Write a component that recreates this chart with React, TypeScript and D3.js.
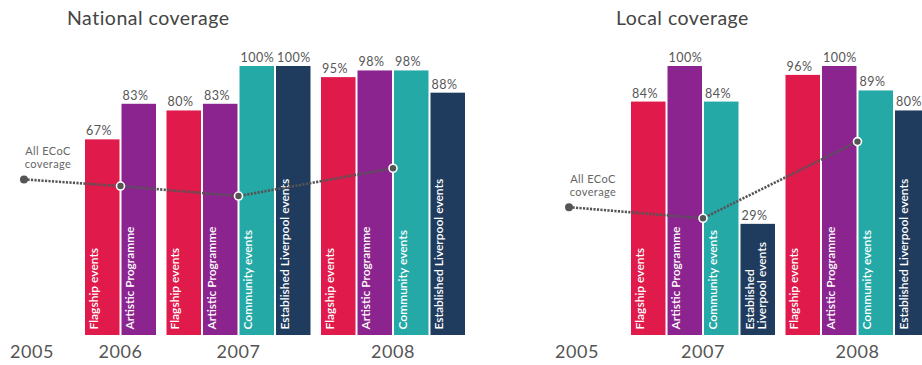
import React from "react";
import * as d3 from "d3";

// ---------- data ----------
const categories = [
  "Flagship events",
  "Artistic Programme",
  "Community events",
  "Established Liverpool events",
];
const categoryColors = ["#E01A4B", "#8C248F", "#25A9A7", "#1F3B5E"];

// National coverage (% of events)
const nationalYears = ["2006", "2007", "2008"];
const nationalFlagship = [67, 80, 95];
const nationalArtistic = [83, 83, 98];
const nationalCommunity: (number | null)[] = [null, 100, 98];
const nationalEstablished: (number | null)[] = [null, 100, 88];
const nationalEcocYears = ["2005", "2006", "2007", "2008"];
const nationalEcoc = [49, 46, 41.5, 54];

// Local coverage (% of events)
const localYears = ["2007", "2008"];
const localFlagship = [84, 96];
const localArtistic = [100, 100];
const localCommunity = [84, 89];
const localEstablished = [29, 80];
const localEcocYears = ["2005", "2007", "2008"];
const localEcoc = [36.5, 31.5, 66];

const ecocLabel = ["All ECoC", "coverage"];

// ---------- layout ----------
const W = 922;
const H = 365;
const BASE_Y = 335;
const TOP_Y = 66;
const STEP = 36.5;
const GAP = 2;
const GROUP_GAP = 10.5;
const FONT = "Lato, 'Open Sans', sans-serif";
const TEXT_GRAY = "#555";

type Group = { year: string; values: (number | null)[] };

function buildGroups(years: string[], series: (number | null)[][]): Group[] {
  return years.map((year, i) => ({
    year,
    values: series.map((s) => s[i]).filter((v) => v !== null && v !== undefined) as number[],
  }));
}

const y = d3.scaleLinear().domain([-21, 100]).range([BASE_Y, TOP_Y]);

type PanelProps = {
  title: string;
  titleX: number;
  anchorX: number;
  firstX: number;
  groups: Group[];
  ecocYears: string[];
  ecoc: number[];
};

function Panel({ title, titleX, anchorX, firstX, groups, ecocYears, ecoc }: PanelProps) {
  let cursor = firstX;
  const placed = groups.map((g) => {
    const n = g.values.length;
    const x0 = cursor;
    const x1 = x0 + n * STEP - GAP;
    cursor = x1 + GROUP_GAP;
    const band = d3
      .scaleBand<number>()
      .domain(d3.range(n))
      .range([x0, x1])
      .paddingInner(GAP / STEP)
      .paddingOuter(0);
    return { ...g, band, center: (x0 + x1) / 2 };
  });

  const xOfYear = (yr: string) => {
    const p = placed.find((g) => g.year === yr);
    return p ? p.center : anchorX;
  };

  const pts: [number, number][] = ecocYears.map((yr, i) => [xOfYear(yr), y(ecoc[i])]);
  const line = d3.line<[number, number]>()(pts) || "";

  return (
    <g>
      <text x={titleX} y={25} fontFamily={FONT} fontSize={19.5} letterSpacing={0.5} fill="#444">
        {title}
      </text>
      {placed.map((g) => (
        <g key={g.year}>
          {g.values.map((v, i) => {
            const bx = g.band(i)!;
            const bw = g.band.bandwidth();
            const top = y(v as number);
            const h = BASE_Y - top;
            const label = categories[i];
            const split = label.length * 6.2 > h - 12;
            const lines = split
              ? [label.slice(0, label.indexOf(" ")), label.slice(label.indexOf(" ") + 1)]
              : [label];
            return (
              <g key={i}>
                <rect x={bx} y={top} width={bw} height={h} fill={categoryColors[i]} />
                <text
                  x={bx + 1}
                  y={top - 4}
                  fontFamily={FONT}
                  fontSize={12.5}
                  letterSpacing={0.5}
                  fill={TEXT_GRAY}
                >
                  {`${v}%`}
                </text>
                {lines.map((ln, j) => (
                  <text
                    key={j}
                    transform={`translate(${bx + (split ? 13 + j * 12 : 12.5)},${BASE_Y - 5.5}) rotate(-90)`}
                    fontFamily={FONT}
                    fontSize={12}
                    fontWeight={600}
                    fill="#fff"
                  >
                    {ln}
                  </text>
                ))}
              </g>
            );
          })}
          <text
            x={g.center}
            y={358}
            textAnchor="middle"
            fontFamily={FONT}
            fontSize={18}
            letterSpacing={0.5}
            fill={TEXT_GRAY}
          >
            {g.year}
          </text>
        </g>
      ))}
      <text
        x={anchorX + 8}
        y={358}
        textAnchor="middle"
        fontFamily={FONT}
        fontSize={18}
        letterSpacing={0.5}
        fill={TEXT_GRAY}
      >
        {ecocYears[0]}
      </text>
      <path d={line} fill="none" stroke="#555" strokeWidth={2.6} strokeDasharray="2.2 1.3" />
      {pts.map((p, i) =>
        i === 0 ? (
          <circle key={i} cx={p[0]} cy={p[1]} r={4} fill="#555" />
        ) : (
          <circle key={i} cx={p[0]} cy={p[1]} r={4} fill="#555" stroke="#fff" strokeWidth={1.6} />
        )
      )}
      {ecocLabel.map((t, i) => (
        <text
          key={i}
          x={pts[0][0] + 24}
          y={pts[0][1] - 24 + i * 13}
          textAnchor="middle"
          fontFamily={FONT}
          fontSize={11}
          letterSpacing={0.4}
          fill="#666"
        >
          {t}
        </text>
      ))}
    </g>
  );
}

export default function App() {
  const national = buildGroups(nationalYears, [
    nationalFlagship,
    nationalArtistic,
    nationalCommunity,
    nationalEstablished,
  ]);
  const local = buildGroups(localYears, [
    localFlagship,
    localArtistic,
    localCommunity,
    localEstablished,
  ]);
  return (
    <svg
      width={W}
      height={H}
      style={{ position: "absolute", left: 0, top: 0, background: "#fff" }}
    >
      <Panel
        title="National coverage"
        titleX={67}
        anchorX={24}
        firstX={85}
        groups={national}
        ecocYears={nationalEcocYears}
        ecoc={nationalEcoc}
      />
      <Panel
        title="Local coverage"
        titleX={616}
        anchorX={569}
        firstX={631}
        groups={local}
        ecocYears={localEcocYears}
        ecoc={localEcoc}
      />
    </svg>
  );
}
